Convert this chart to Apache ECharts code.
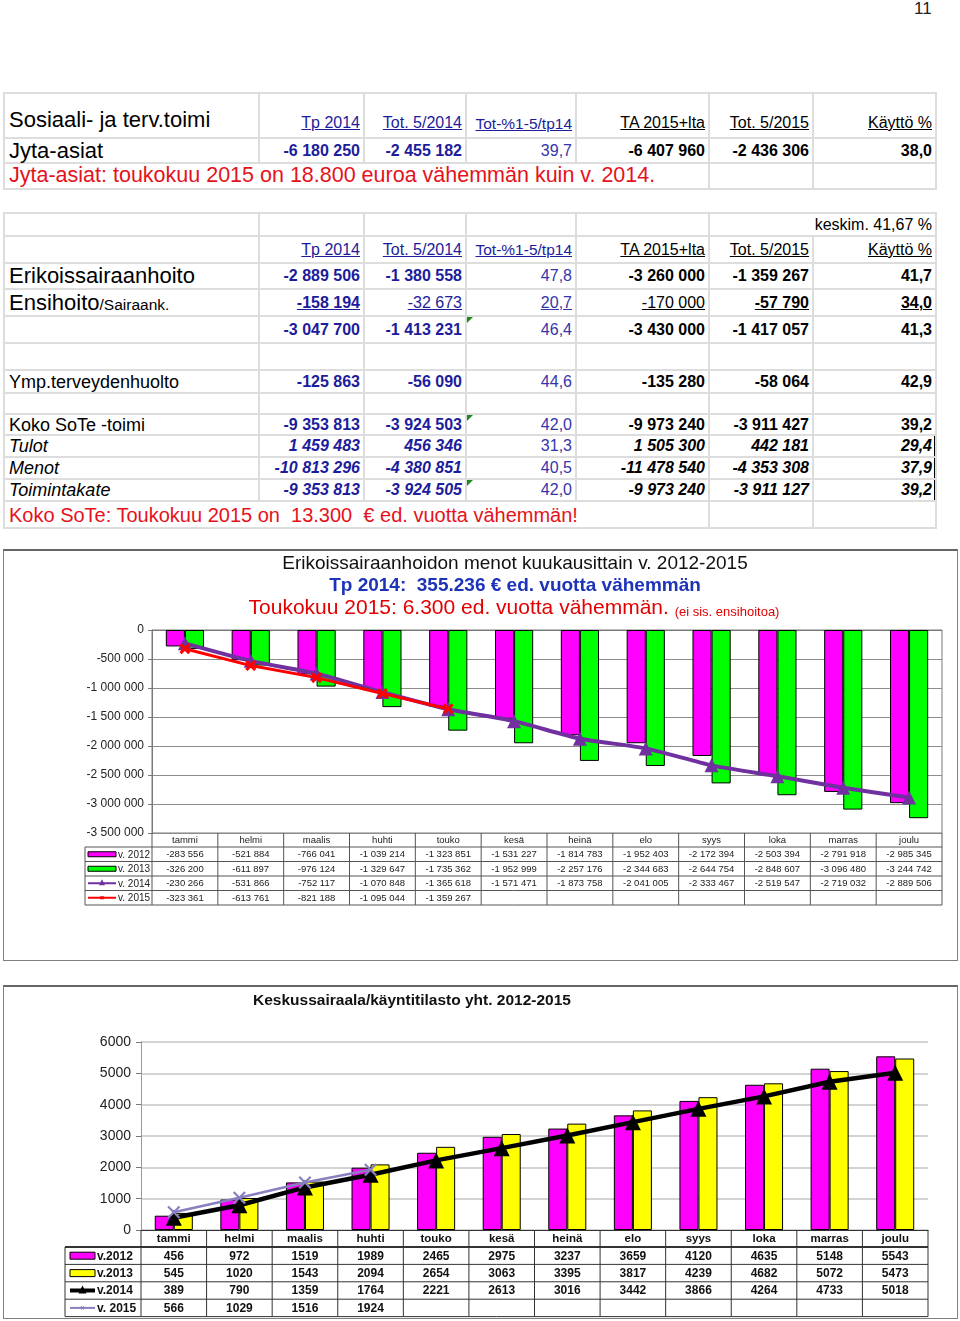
<!DOCTYPE html>
<html><head><meta charset="utf-8">
<script src="https://cdn.jsdelivr.net/npm/echarts@6.0.0/dist/echarts.min.js"></script>
<style>
html,body{margin:0;padding:0;background:#fff}
body{width:960px;height:1321px;position:relative;overflow:hidden;font-family:'Liberation Sans',Arial,sans-serif;color:#000}
#pg{position:absolute;left:914px;top:-1px;font-size:17px;color:#222}
table.s{position:absolute;left:3px;border-collapse:collapse;table-layout:fixed;width:932px}
table.s td{border:2px solid #dddddd;padding:0 3px 0 4px;white-space:nowrap;overflow:visible;font-size:16px;text-align:right;vertical-align:middle;line-height:1;}
table.s td.l{text-align:left}
table.s td.bl{color:#1c1c9c} table.s td.bl2{color:#3535aa} table.s td.b{font-weight:bold} table.s td.nb{font-weight:normal}
table.s td.u span{text-decoration:underline} table.s td.it{font-style:italic}
table.s td.hb{color:#1c1c9c} table.s td.sm{font-size:15.5px}
table.s td.big{font-size:22px} table.s td.mid{font-size:18px}
table.s td.red{color:#e5121b;font-size:21.5px}
table.s td.red2{font-size:20px}
table.s td.bot{vertical-align:bottom;padding-bottom:6px}
table.s td.tri{position:relative}
table.s td.tri:before{content:'';position:absolute;left:0;top:0;border-top:6px solid #1a8a1a;border-right:6px solid transparent}
.frame{position:absolute;border:1px solid #808080;box-sizing:border-box}
.chart{position:absolute}
#box{position:absolute;border:2px solid #000;box-sizing:border-box;pointer-events:none}
</style></head>
<body>
<div id="pg">11</div>
<div class="frame" style="left:3px;top:549px;width:955px;height:412px;border-top:2px solid #666"></div>
<div id="c1" class="chart" style="left:3px;top:549px;width:955px;height:412px"></div>
<div class="frame" style="left:3px;top:985px;width:955px;height:334px;border-top:2px solid #666"></div>
<div id="c2" class="chart" style="left:3px;top:985px;width:955px;height:334px"></div>
<div id="box"></div>
<script>
// ---------- spreadsheet data ----------
const COLW=[255,105,102,110,133,104,123];
const heads=['Tp 2014','Tot. 5/2014','Tot-%1-5/tp14','TA 2015+lta','Tot. 5/2015','Käyttö %'];
const rowJyta=['-6 180 250','-2 455 182','39,7','-6 407 960','-2 436 306','38,0'];
const rowErik=['-2 889 506','-1 380 558','47,8','-3 260 000','-1 359 267','41,7'];
const rowEnsi=['-158 194','-32 673','20,7','-170 000','-57 790','34,0'];
const rowEshTot=['-3 047 700','-1 413 231','46,4','-3 430 000','-1 417 057','41,3'];
const rowYmp=['-125 863','-56 090','44,6','-135 280','-58 064','42,9'];
const rowKoko=['-9 353 813','-3 924 503','42,0','-9 973 240','-3 911 427','39,2'];
const rowTulot=['1 459 483','456 346','31,3','1 505 300','442 181','29,4'];
const rowMenot=['-10 813 296','-4 380 851','40,5','-11 478 540','-4 353 308','37,9'];
const rowTk=['-9 353 813','-3 924 505','42,0','-9 973 240','-3 911 127','39,2'];
const noteJyta='Jyta-asiat: toukokuu 2015 on 18.800 euroa vähemmän kuin v. 2014.';
const noteKoko='Koko SoTe: Toukokuu 2015 on &nbsp;13.300 &nbsp;€ ed. vuotta vähemmän!';

// ---------- chart data ----------
const months=['tammi','helmi','maalis','huhti','touko','kesä','heinä','elo','syys','loka','marras','joulu'];
const eshYears=['v. 2012','v. 2013','v. 2014','v. 2015'];
const esh2012=[-283556,-521884,-766041,-1039214,-1323851,-1531227,-1814783,-1952403,-2172394,-2503394,-2791918,-2985345];
const esh2013=[-326200,-611897,-976124,-1329647,-1735362,-1952999,-2257176,-2344683,-2644754,-2848607,-3096480,-3244742];
const esh2014=[-230266,-531866,-752117,-1070848,-1365618,-1571471,-1873758,-2041005,-2333467,-2519547,-2719032,-2889506];
const esh2015=[-323361,-613761,-821188,-1095044,-1359267];
const kayYears=['v.2012','v.2013','v.2014','v. 2015'];
const kay2012=[456,972,1519,1989,2465,2975,3237,3659,4120,4635,5148,5543];
const kay2013=[545,1020,1543,2094,2654,3063,3395,3817,4239,4682,5072,5473];
const kay2014=[389,790,1359,1764,2221,2613,3016,3442,3866,4264,4733,5018];
const kay2015=[566,1029,1516,1924];

// ---------- spreadsheet ----------
const NUMCLS=['b bl','b bl','bl2','b','b','b'];
function numRow(label,labelCls,vals,extra){
  const cells=[{html:label,cls:'l '+labelCls}];
  vals.forEach((v,i)=>cells.push({html:'<span>'+v+'</span>',cls:NUMCLS[i]+(extra&&extra[i]?' '+extra[i]:'')}));
  return cells;
}
function headRow(first,firstCls,extraCls){
  const hc=['hb u','hb u','hb u sm','u','u','u'];
  const cells=[{html:first,cls:'l '+firstCls}];
  heads.forEach((h,i)=>cells.push({html:'<span>'+h+'</span>',cls:hc[i]+' '+(extraCls||'')}));
  return cells;
}
function empty(n){const a=[];for(let i=0;i<n;i++)a.push({html:''});return a;}
function buildSheet(top,rows){
  const t=document.createElement('table');t.className='s';t.style.top=top+'px';
  const cg=document.createElement('colgroup');
  COLW.forEach(w=>{const c=document.createElement('col');c.style.width=w+'px';cg.appendChild(c);});
  t.appendChild(cg);
  rows.forEach(r=>{
    const tr=document.createElement('tr');tr.style.height=r.h+'px';if(r.id)tr.id=r.id;
    r.cells.forEach(c=>{const td=document.createElement('td');td.innerHTML=c.html||'';if(c.cls)td.className=c.cls;if(c.span)td.colSpan=c.span;tr.appendChild(td);});
    t.appendChild(tr);
  });
  document.body.appendChild(t);return t;
}
buildSheet(92,[
  {h:45,cells:headRow('Sosiaali- ja terv.toimi','big bot','bot')},
  {h:25,cells:numRow('Jyta-asiat','big',rowJyta,['','','nb','','',''])},
  {h:26,cells:[{html:noteJyta,cls:'l red',span:5}].concat(empty(2))}
]);
buildSheet(212,[
  {h:23,cells:empty(5).concat([{html:'keskim. 41,67 %',span:2}])},
  {h:27,cells:headRow('','')},
  {h:26,cells:numRow('Erikoissairaanhoito','big',rowErik)},
  {h:27,cells:numRow('Ensihoito<span style="font-size:15.5px">/Sairaank.</span>','big',rowEnsi,['u','u nb','u','u nb','u','u'])},
  {h:27,cells:numRow('','',rowEshTot,['','','tri','','',''])},
  {h:27,cells:empty(7)},
  {h:23,cells:numRow('Ymp.terveydenhuolto','mid',rowYmp)},
  {h:21,cells:empty(7)},
  {h:21,cells:numRow('Koko SoTe -toimi','mid',rowKoko,['','','tri','','',''])},
  {h:22,id:'bx1',cells:numRow('Tulot','mid it',rowTulot,['it','it','','it','it','it'])},
  {h:22,cells:numRow('Menot','mid it',rowMenot,['it','it','','it','it','it'])},
  {h:22,id:'bx3',cells:numRow('Toimintakate','mid it',rowTk,['it','it','tri','it','it','it'])},
  {h:27,cells:[{html:noteKoko,cls:'l red red2',span:5}].concat(empty(2))}
]);
(function(){
  const a=document.getElementById('bx1').getBoundingClientRect();
  const b=document.getElementById('bx3').getBoundingClientRect();
  const bx=document.getElementById('box');
  bx.style.left='3px';bx.style.width='933px';
  bx.style.top=(a.top-1)+'px';bx.style.height=(b.bottom-a.top+2)+'px';
})();

// ---------- helpers ----------
function fmt(v){if(v===0)return '0';const s=String(Math.abs(v)).replace(/\B(?=(\d{3})+(?!\d))/g,' ');return (v<0?'-':'')+s;}
const FF='"Liberation Sans", Arial, sans-serif';
function T(text,x,y,font,fill,align,valign,extra){
  const st={text:text,x:x,y:y,font:font+' '+FF,fill:fill||'#000',textAlign:align||'center',align:align||'center',textVerticalAlign:valign||'middle',verticalAlign:valign||'middle'};
  if(extra)Object.assign(st,extra);
  return {type:'text',silent:true,z:100,style:st};
}
const XPATH='path://M2,0L5,3L8,0L10,2L7,5L10,8L8,10L5,7L2,10L0,8L3,5L0,2Z';
const XTHIN='path://M1.2,0L5,3.8L8.8,0L10,1.2L6.2,5L10,8.8L8.8,10L5,6.2L1.2,10L0,8.8L3.8,5L0,1.2Z';

function buildTable(o){
  const els=[];
  const colW=o.gw/12,right=o.gl+o.gw;
  const hb=o.top+o.hh,bottom=hb+o.rh*4;
  const L=(x1,y1,x2,y2,w)=>els.push({type:'line',silent:true,z:90,shape:{x1,y1,x2,y2},style:{stroke:o.lc,lineWidth:w||1}});
  for(let k=0;k<=4;k++){const y=hb+k*o.rh;L(o.ll,y,right,y,k===0?o.hw:1);}
  for(let i=0;i<=12;i++){const x=o.gl+i*colW;L(x,o.top,x,bottom);}
  L(o.ll,hb,o.ll,bottom);
  months.forEach((m,i)=>els.push(T(m,o.gl+(i+0.5)*colW,o.top+o.hh/2+0.5,o.hf,o.tc)));
  o.rows.forEach((r,k)=>{
    const cy=hb+(k+0.5)*o.rh;
    const x0=o.ll+o.ix,x1=x0+o.iw;
    if(r.kind==='bar'){
      els.push({type:'rect',silent:true,z:95,shape:{x:x0,y:cy-o.ih/2,width:o.iw,height:o.ih},style:{fill:r.color,stroke:'#000',lineWidth:1}});
    }else{
      els.push({type:'line',silent:true,z:95,shape:{x1:x0,y1:cy,x2:x1,y2:cy},style:{stroke:r.color,lineWidth:r.lw}});
      const mx=(x0+x1)/2;
      if(r.mark==='tri'){els.push({type:'polygon',silent:true,z:96,shape:{points:[[mx-r.ms/2,cy+r.ms/2-1],[mx+r.ms/2,cy+r.ms/2-1],[mx,cy-r.ms/2-1]]},style:{fill:r.color}});}
      else{const s=r.ms/2;els.push({type:'line',silent:true,z:96,shape:{x1:mx-s,y1:cy-s,x2:mx+s,y2:cy+s},style:{stroke:r.color,lineWidth:1.2}});els.push({type:'line',silent:true,z:96,shape:{x1:mx-s,y1:cy+s,x2:mx+s,y2:cy-s},style:{stroke:r.color,lineWidth:1.2}});}
    }
    els.push(T(r.name,x1+o.tx,cy+0.5,o.lf,o.tc,'left'));
    r.vals.forEach((v,i)=>els.push(T(o.fmt(v),o.gl+(i+0.5)*colW,cy+0.5,o.vf,o.tc)));
  });
  return els;
}

// ---------- chart 1 ----------
const c1=echarts.init(document.getElementById('c1'),null,{renderer:'canvas'});
const g1={left:149,top:81,width:790,height:203};
const t1=buildTable({gl:g1.left,gw:g1.width,top:g1.top+g1.height,hh:14,rh:14.5,ll:82,lc:'#555',hw:1,
  ix:3,iw:28,ih:5,tx:2,hf:'9.5px',vf:'9.5px',lf:'10px',tc:'#222',fmt:fmt,
  rows:[
    {name:eshYears[0],kind:'bar',color:'#ff00ff',vals:esh2012},
    {name:eshYears[1],kind:'bar',color:'#00ff00',vals:esh2013},
    {name:eshYears[2],kind:'line',color:'#7030a0',lw:2,mark:'tri',ms:6,vals:esh2014},
    {name:eshYears[3],kind:'line',color:'#ff0000',lw:2,mark:'x',ms:3,vals:esh2015}
  ]});
const title1=[
  T('Erikoissairaanhoidon menot kuukausittain v. 2012-2015',512,15,'19px','#111'),
  T('Tp 2014:  355.236 € ed. vuotta vähemmän',512,37,'bold 19px','#1d34b8'),
  T('{a|Toukokuu 2015: 6.300 ed. vuotta vähemmän.} {b|(ei sis. ensihoitoa)}',511,59,'21px','#e30000','center','middle',
    {rich:{a:{fontSize:21,fontFamily:'Liberation Sans',fill:'#e30000',fontWeight:'normal'},b:{fontSize:13,fontFamily:'Liberation Sans',fill:'#e30000',verticalAlign:'bottom'}}})
];
c1.setOption({
  animation:false,
  grid:{left:g1.left,top:g1.top,width:g1.width,height:g1.height,show:true,borderColor:'#7a7a7a',borderWidth:1,containLabel:false},
  xAxis:{type:'category',data:months,axisLine:{show:true,onZero:true,lineStyle:{color:'#7a7a7a'}},axisTick:{show:false},axisLabel:{show:false},splitLine:{show:false}},
  yAxis:{type:'value',min:-3500000,max:0,interval:500000,
    axisLine:{show:true,lineStyle:{color:'#7a7a7a'}},axisTick:{show:true,length:4,lineStyle:{color:'#7a7a7a'}},
    splitLine:{show:true,lineStyle:{color:'#8c8c8c',width:1}},
    axisLabel:{formatter:fmt,color:'#222',fontSize:12,fontFamily:'Liberation Sans',margin:8}},
  series:[
    {name:eshYears[0],type:'bar',data:esh2012,barWidth:'29%',barGap:'0%',itemStyle:{color:'#ff00ff',borderColor:'#000',borderWidth:1}},
    {name:eshYears[1],type:'bar',data:esh2013,barWidth:'29%',barGap:'0%',itemStyle:{color:'#00ff00',borderColor:'#000',borderWidth:1}},
    {name:eshYears[2],type:'line',data:esh2014,smooth:0.2,symbol:'triangle',symbolSize:14,lineStyle:{color:'#7030a0',width:4},itemStyle:{color:'#7030a0'},z:5},
    {name:eshYears[3],type:'line',data:esh2015,symbol:XPATH,symbolSize:11,lineStyle:{color:'#ff0000',width:3},itemStyle:{color:'#ff0000'},z:6}
  ],
  graphic:title1.concat(t1)
});

// ---------- chart 2 ----------
const c2=echarts.init(document.getElementById('c2'),null,{renderer:'canvas'});
const g2={left:138,top:57,width:787,height:188};
const t2=buildTable({gl:g2.left,gw:g2.width,top:g2.top+g2.height,hh:17,rh:17.4,ll:62,lc:'#333',hw:2,
  ix:5,iw:25,ih:7,tx:2,hf:'bold 11.5px',vf:'bold 12px',lf:'bold 12px',tc:'#111',fmt:v=>String(v),
  rows:[
    {name:kayYears[0],kind:'bar',color:'#ff00ff',vals:kay2012},
    {name:kayYears[1],kind:'bar',color:'#ffff00',vals:kay2013},
    {name:kayYears[2],kind:'line',color:'#000',lw:4,mark:'tri',ms:8,vals:kay2014},
    {name:kayYears[3],kind:'line',color:'#8a7fbf',lw:2,mark:'x',ms:3,vals:kay2015}
  ]});
c2.setOption({
  animation:false,
  grid:{left:g2.left,top:g2.top,width:g2.width,height:g2.height,show:false,containLabel:false},
  xAxis:{type:'category',data:months,axisLine:{show:true,lineStyle:{color:'#333',width:1}},axisTick:{show:false},axisLabel:{show:false},splitLine:{show:false}},
  yAxis:{type:'value',min:0,max:6000,interval:1000,
    axisLine:{show:true,lineStyle:{color:'#999'}},axisTick:{show:true,length:5,lineStyle:{color:'#777'}},
    splitLine:{show:true,lineStyle:{color:'#c4c4c4',width:1.5}},
    axisLabel:{formatter:v=>String(v),color:'#222',fontSize:14,fontFamily:'Liberation Sans',margin:10}},
  series:[
    {name:kayYears[0],type:'bar',data:kay2012,barWidth:'29%',barGap:'0%',itemStyle:{color:'#ff00ff',borderColor:'#000',borderWidth:1}},
    {name:kayYears[1],type:'bar',data:kay2013,barWidth:'29%',barGap:'0%',itemStyle:{color:'#ffff00',borderColor:'#000',borderWidth:1}},
    {name:kayYears[2],type:'line',data:kay2014,symbol:'triangle',symbolSize:16,lineStyle:{color:'#000',width:4.5},itemStyle:{color:'#000'},z:5},
    {name:kayYears[3],type:'line',data:kay2015,symbol:XTHIN,symbolSize:13,lineStyle:{color:'#8a7fbf',width:2.5},itemStyle:{color:'#8a7fbf'},z:6}
  ],
  graphic:[T('Keskussairaala/käyntitilasto yht. 2012-2015',409,16,'bold 15.5px','#111')].concat(t2)
});
</script>
</body></html>
